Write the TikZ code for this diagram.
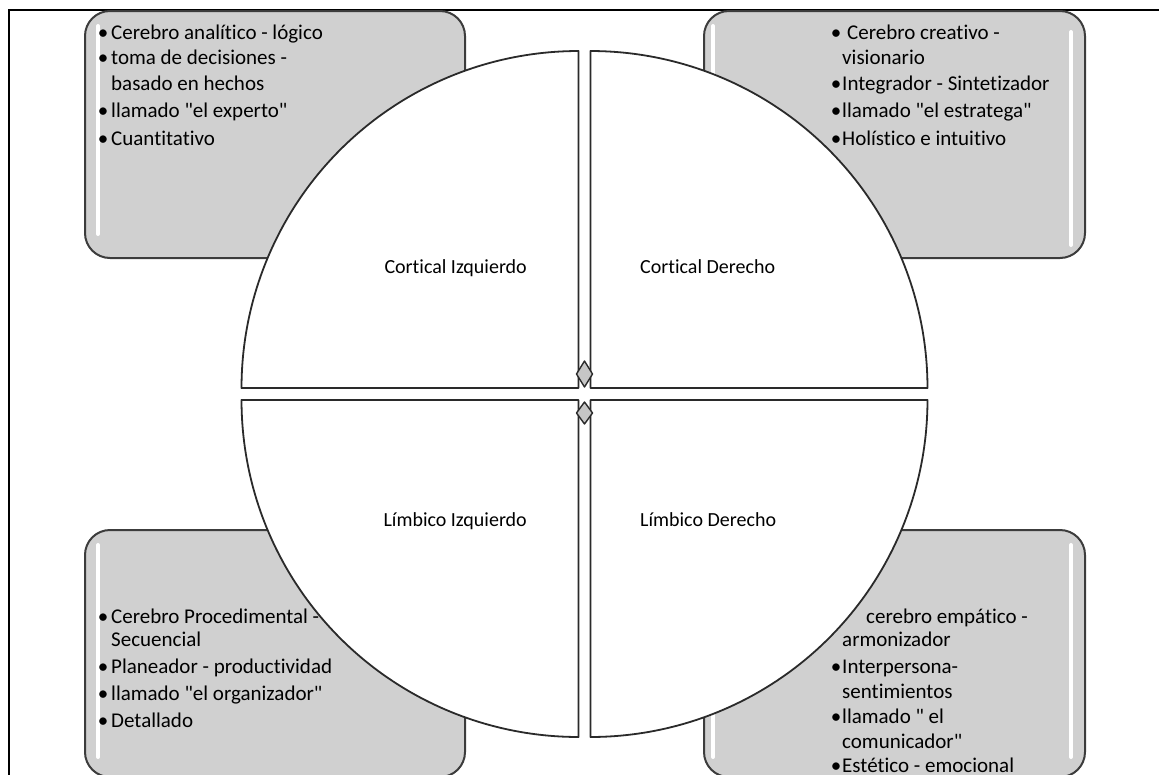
\documentclass[tikz,border=0pt]{standalone}
\usepackage{fontspec}
\setmainfont{Carlito}[Ligatures={TeXOff,CommonOff}]
\definecolor{panelfill}{HTML}{D0D0D0}
\definecolor{panelline}{HTML}{3C3C3C}
\definecolor{quadline}{HTML}{2A2A2A}
\definecolor{knobfill}{HTML}{C6C6C6}
\begin{document}
\begin{tikzpicture}[x=1pt,y=-1pt,
  frame/.style={draw=black,line width=2pt},
  panel/.style={draw=panelline,fill=panelfill,line width=2pt,rounded corners=25pt},
  gloss/.style={draw=white,line width=4pt,line cap=round},
  quad/.style={draw=quadline,fill=white,line width=1.8pt,line join=round},
  knob/.style={draw=quadline,fill=knobfill,line width=1.4pt,line join=round},
  txt/.style={font=\fontsize{21}{24}\selectfont,text=black,inner sep=0pt,anchor=base west},
  dot/.style={font=\fontsize{21}{24}\selectfont,text=black,inner sep=0pt,anchor=base},
  lbl/.style={font=\fontsize{20}{24}\selectfont,text=black,inner sep=0pt}
]
\useasboundingbox (0,0) rectangle (1159,774);

% outer frame (runs past the right and bottom edges)
\draw[frame] (8.5,10) rectangle (1175,795);

% four rounded panels with glossy edge strips
\draw[panel] (85,11) rectangle (465,258);
\draw[panel] (704,11) rectangle (1085,258);
\draw[panel] (85,530) rectangle (465,777);
\draw[panel] (704,530) rectangle (1085,777);
\draw[gloss] (98,26) -- (98,234);
\draw[gloss] (713,26) -- (713,234);
\draw[gloss] (1071,32) -- (1071,245);
\draw[gloss] (98,545) -- (98,757);
\draw[gloss] (713,545) -- (713,757);
\draw[gloss] (1071,545) -- (1071,757);

% top-left panel text
\node[dot] (tl1b) at (103,39) {•};
\node[txt] (tl1) at (111,39) {Cerebro analítico - lógico};
\node[dot] (tl2b) at (103,64) {•};
\node[txt] (tl2) at (111,64) {toma de decisiones -};
\node[txt] (tl2c) at (111,90.5) {basado en hechos};
\node[dot] (tl3b) at (103,117.5) {•};
\node[txt] (tl3) at (111,117.5) {llamado "el experto"};
\node[dot] (tl4b) at (103,145) {•};
\node[txt] (tl4) at (111,145) {Cuantitativo};

% top-right panel text
\node[dot] (tr1b) at (836,39) {•};
\node[txt] (tr1) at (847,39) {Cerebro creativo -};
\node[txt] (tr1c) at (842,64) {visionario};
\node[dot] (tr2b) at (836,90.5) {•};
\node[txt] (tr2) at (842,90.5) {Integrador - Sintetizador};
\node[dot] (tr3b) at (836,117.5) {•};
\node[txt] (tr3) at (842,117.5) {llamado "el estratega"};
\node[dot] (tr4b) at (836,145) {•};
\node[txt] (tr4) at (842,145) {Holístico e intuitivo};

% bottom-left panel text
\node[dot] (bl1b) at (103,623) {•};
\node[txt] (bl1) at (111,623) {Cerebro Procedimental -};
\node[txt] (bl1c) at (111,646.5) {Secuencial};
\node[dot] (bl2b) at (103,673) {•};
\node[txt] (bl2) at (111,673) {Planeador - productividad};
\node[dot] (bl3b) at (103,700) {•};
\node[txt] (bl3) at (111,700) {llamado "el organizador"};
\node[dot] (bl4b) at (103,727) {•};
\node[txt] (bl4) at (111,727) {Detallado};

% bottom-right panel text
\node[txt] (br1) at (866,623) {cerebro empático -};
\node[txt] (br1c) at (842,646.5) {armonizador};
\node[dot] (br2b) at (836,673) {•};
\node[txt] (br2) at (842,673) {Interpersona-};
\node[txt] (br2c) at (842,698) {sentimientos};
\node[dot] (br3b) at (836,723.5) {•};
\node[txt] (br3) at (842,723.5) {llamado " el};
\node[txt] (br3c) at (842,748) {comunicador"};
\node[dot] (br4b) at (836,772.5) {•};
\node[txt] (br4) at (842,772.5) {Estético - emocional};

% the four quadrants of the circle
\draw[quad] (578.5,388) -- plot[domain=180:270,samples=90] ({578.5+337*cos(\x)},{388+337*sin(\x)}) -- cycle;
\draw[quad] (590.5,388) -- plot[domain=270:360,samples=90] ({590.5+337*cos(\x)},{388+337*sin(\x)}) -- cycle;
\draw[quad] (590.5,400) -- plot[domain=0:90,samples=90] ({590.5+337*cos(\x)},{400+337*sin(\x)}) -- cycle;
\draw[quad] (578.5,400) -- plot[domain=90:180,samples=90] ({578.5+337*cos(\x)},{400+337*sin(\x)}) -- cycle;

% quadrant labels
\node[lbl,anchor=base east] (ci) at (527,273) {Cortical Izquierdo};
\node[lbl,anchor=base west] (cd) at (640,273) {Cortical Derecho};
\node[lbl,anchor=base east] (li) at (527,526) {Límbico Izquierdo};
\node[lbl,anchor=base west] (ld) at (640,526) {Límbico Derecho};

% small diamonds at the centre
\draw[knob] (584.5,361) -- (592.5,374) -- (584.5,387) -- (576.5,374) -- cycle;
\draw[knob] (584.5,402) -- (592.5,413) -- (584.5,424) -- (576.5,413) -- cycle;
\end{tikzpicture}
\end{document}
